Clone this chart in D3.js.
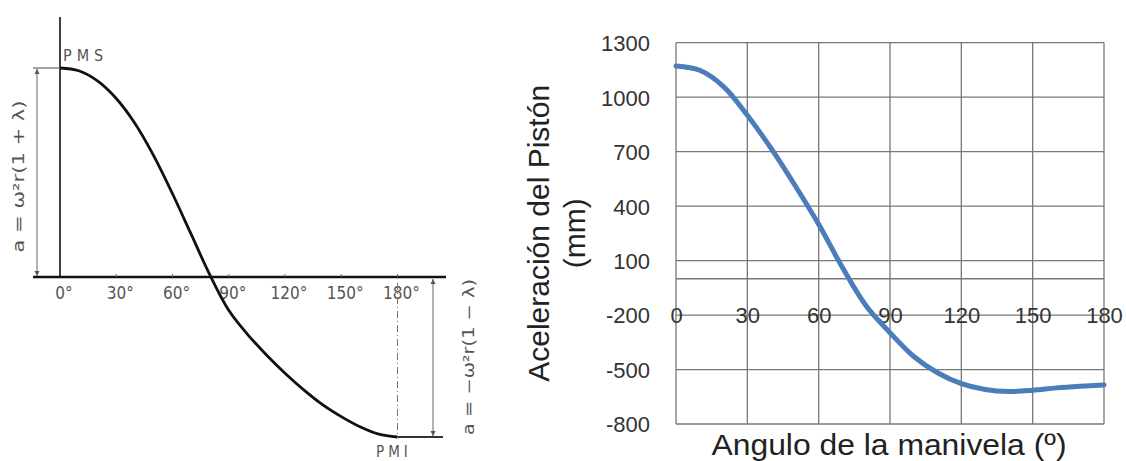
<!DOCTYPE html>
<html>
<head>
<meta charset="utf-8">
<script src="https://cdn.jsdelivr.net/npm/d3@7"></script>
<style>
  body { margin: 0; background: #fff; }
  svg { display: block; }
</style>
</head>
<body>
<svg id="chart" width="1126" height="461"></svg>
<script>
// ---- Left diagram: piston acceleration vs crank angle (in units of ω²r) ----
const diagramAngles = [0, 10, 20, 30, 40, 50, 60, 70, 80, 90, 100, 110, 120, 130, 140, 150, 160, 170, 180];
const diagramAccel  = [1.13, 1.115, 1.06, 0.965, 0.83, 0.655, 0.45, 0.23, 0.01, -0.18, -0.31, -0.42, -0.52, -0.61, -0.69, -0.755, -0.81, -0.85, -0.865];
const diagramTicks  = [0, 30, 60, 90, 120, 150, 180];
const diagramTickLabels = ["0°", "30°", "60°", "90°", "120°", "150°", "180°"];
const topDeadCentre = "PMS";
const bottomDeadCentre = "PMI";
const maxFormula = "a = ω²r(1 + λ)";
const minFormula = "a = −ω²r(1 − λ)";

// ---- Right chart: computed piston acceleration ----
const crankAngles = [0, 10, 20, 30, 40, 50, 60, 70, 80, 90, 100, 110, 120, 130, 140, 150, 160, 170, 180];
const pistonAccel = [1172, 1148, 1058, 900, 718, 515, 300, 62, -150, -297, -428, -518, -578, -610, -621, -614, -601, -592, -585];
const accelTicks  = [-800, -500, -200, 100, 400, 700, 1000, 1300];
const angleTicks  = [0, 30, 60, 90, 120, 150, 180];
const xTitle = "Angulo de la manivela (º)";
const yTitleLines = ["Aceleración del Pistón", "(mm)"];

const svg = d3.select("#chart");

// ================= Left diagram =================
const xL = d3.scaleLinear().domain([0, 180]).range([60, 397.5]);
const yL = d3.scaleLinear().domain([0, 1.13]).range([277, 68]);
const ink = "#111";
const thin = "#666";

const defs = svg.append("defs");
defs.append("marker")
  .attr("id", "arrow")
  .attr("viewBox", "0 0 10 10")
  .attr("refX", 10).attr("refY", 5)
  .attr("markerWidth", 5).attr("markerHeight", 7)
  .attr("markerUnits", "userSpaceOnUse")
  .attr("orient", "auto-start-reverse")
  .append("path").attr("d", "M0,0 L10,5 L0,10 z").attr("fill", "#555");

const left = svg.append("g").attr("class", "diagram");

// vertical axis
left.append("line")
  .attr("x1", xL(0)).attr("x2", xL(0))
  .attr("y1", 17).attr("y2", yL(0))
  .attr("stroke", ink).attr("stroke-width", 1.6);

// horizontal axis
left.append("line")
  .attr("x1", 33).attr("x2", 446)
  .attr("y1", yL(0)).attr("y2", yL(0))
  .attr("stroke", ink).attr("stroke-width", 2.6);

// small tick marks on the angle axis
left.selectAll("line.tick").data(diagramTicks.slice(1)).join("line")
  .attr("class", "tick")
  .attr("x1", d => xL(d)).attr("x2", d => xL(d))
  .attr("y1", yL(0) - 3).attr("y2", yL(0))
  .attr("stroke", thin).attr("stroke-width", 1);

const labelFont = "'Liberation Sans Narrow', 'DejaVu Sans Condensed', 'Liberation Sans', sans-serif";

// angle labels
left.selectAll("text.tl").data(diagramTicks).join("text")
  .attr("class", "tl")
  .attr("x", d => xL(d) + 4)
  .attr("y", 293)
  .attr("text-anchor", "middle")
  .attr("dominant-baseline", "central")
  .attr("font-family", labelFont)
  .attr("font-size", 17)
  .attr("fill", "#555")
  .text((d, i) => diagramTickLabels[i]);

// extension line at the maximum and dimension arrow
const yMax = yL(diagramAccel[0]);
const yMin = yL(diagramAccel[diagramAccel.length - 1]);
left.append("line")
  .attr("x1", 33).attr("x2", xL(0))
  .attr("y1", yMax).attr("y2", yMax)
  .attr("stroke", thin).attr("stroke-width", 1.2);
left.append("line")
  .attr("x1", 37).attr("x2", 37)
  .attr("y1", yMax + 1).attr("y2", yL(0) - 1)
  .attr("stroke", thin).attr("stroke-width", 1)
  .attr("marker-start", "url(#arrow)")
  .attr("marker-end", "url(#arrow)");

// dash-dot line at 180°, base line at the minimum and dimension arrow
left.append("line")
  .attr("x1", xL(180)).attr("x2", xL(180))
  .attr("y1", yL(0) + 6).attr("y2", yMin)
  .attr("stroke", "#777").attr("stroke-width", 1)
  .attr("stroke-dasharray", "7,3,1,3");
left.append("line")
  .attr("x1", xL(180)).attr("x2", 443)
  .attr("y1", yMin).attr("y2", yMin)
  .attr("stroke", "#333").attr("stroke-width", 1.8);
left.append("line")
  .attr("x1", 433).attr("x2", 433)
  .attr("y1", yL(0) + 2).attr("y2", yMin - 1)
  .attr("stroke", thin).attr("stroke-width", 1)
  .attr("marker-start", "url(#arrow)")
  .attr("marker-end", "url(#arrow)");

// acceleration curve
left.append("path")
  .datum(diagramAngles.map((a, i) => [a, diagramAccel[i]]))
  .attr("fill", "none")
  .attr("stroke", ink)
  .attr("stroke-width", 2.8)
  .attr("d", d3.line().x(d => xL(d[0])).y(d => yL(d[1])).curve(d3.curveCatmullRom));

// dead-centre labels
left.append("text")
  .attr("x", 63).attr("y", 55)
  .attr("dominant-baseline", "central")
  .attr("font-family", labelFont).attr("font-size", 16)
  .attr("letter-spacing", 5)
  .attr("fill", "#555")
  .text(topDeadCentre);
left.append("text")
  .attr("x", 376).attr("y", 452)
  .attr("dominant-baseline", "central")
  .attr("font-family", labelFont).attr("font-size", 15)
  .attr("letter-spacing", 4)
  .attr("fill", "#555")
  .text(bottomDeadCentre);

// rotated formulas
left.append("text")
  .attr("transform", `translate(19,${(yMax + yL(0)) / 2 + 4}) rotate(-90)`)
  .attr("text-anchor", "middle")
  .attr("dominant-baseline", "central")
  .attr("font-family", "'DejaVu Sans', sans-serif")
  .attr("font-size", 15)
  .attr("textLength", 152).attr("lengthAdjust", "spacingAndGlyphs")
  .attr("fill", "#555")
  .text(maxFormula);
left.append("text")
  .attr("transform", `translate(469,${(yMin + yL(0)) / 2}) rotate(-90)`)
  .attr("text-anchor", "middle")
  .attr("dominant-baseline", "central")
  .attr("font-family", "'DejaVu Sans', sans-serif")
  .attr("font-size", 15)
  .attr("textLength", 156).attr("lengthAdjust", "spacingAndGlyphs")
  .attr("fill", "#555")
  .text(minFormula);

// ================= Right chart =================
const xR = d3.scaleLinear().domain([0, 180]).range([676, 1104]);
const yR = d3.scaleLinear().domain([-800, 1300]).range([424, 42.7]);
const gridColor = "#777";
const right = svg.append("g").attr("class", "chart");

// horizontal gridlines (plus the zero line)
right.selectAll("line.hg").data(accelTicks.concat([0])).join("line")
  .attr("class", "hg")
  .attr("x1", xR(0)).attr("x2", xR(180))
  .attr("y1", d => yR(d)).attr("y2", d => yR(d))
  .attr("stroke", gridColor).attr("stroke-width", 1.3);

// vertical gridlines
right.selectAll("line.vg").data(angleTicks).join("line")
  .attr("class", "vg")
  .attr("x1", d => xR(d)).attr("x2", d => xR(d))
  .attr("y1", yR(1300)).attr("y2", yR(-800))
  .attr("stroke", gridColor).attr("stroke-width", 1.3);

const tickFont = "'Liberation Sans', Arial, sans-serif";
const plain = d => String(d);

// y-axis labels
const yAxis = right.append("g")
  .attr("transform", "translate(650,0)")
  .call(d3.axisLeft(yR).tickValues(accelTicks).tickFormat(plain).tickSize(0).tickPadding(0));
yAxis.select(".domain").remove();
yAxis.selectAll("text")
  .attr("font-family", tickFont).attr("font-size", 22).attr("fill", "#333")
  .attr("dy", "0.36em");

// x-axis labels (sit on the -200 row)
const xAxis = right.append("g")
  .attr("transform", `translate(0,${yR(-200)})`)
  .call(d3.axisBottom(xR).tickValues(angleTicks).tickFormat(plain).tickSize(0).tickPadding(0));
xAxis.select(".domain").remove();
xAxis.selectAll("text")
  .attr("font-family", tickFont).attr("font-size", 22).attr("fill", "#333")
  .attr("y", 0).attr("dy", "0.36em");

// acceleration line
right.append("path")
  .datum(crankAngles.map((a, i) => [a, pistonAccel[i]]))
  .attr("fill", "none")
  .attr("stroke", "#4a7dba")
  .attr("stroke-width", 5)
  .attr("stroke-linecap", "round")
  .attr("d", d3.line().x(d => xR(d[0])).y(d => yR(d[1])).curve(d3.curveCatmullRom));

// axis titles
right.append("text")
  .attr("x", 889).attr("y", 455)
  .attr("text-anchor", "middle")
  .attr("font-family", tickFont).attr("font-size", 30)
  .attr("textLength", 355).attr("lengthAdjust", "spacingAndGlyphs")
  .attr("fill", "#222")
  .text(xTitle);

const yMid = (yR(1300) + yR(-800)) / 2;
const titleX = [538, 574];
right.selectAll("text.yt").data(yTitleLines).join("text")
  .attr("class", "yt")
  .attr("transform", (d, i) => `translate(${titleX[i]},${yMid}) rotate(-90)`)
  .attr("text-anchor", "middle")
  .attr("dominant-baseline", "central")
  .attr("font-family", tickFont).attr("font-size", 30)
  .attr("fill", "#222")
  .text(d => d);
</script>
</body>
</html>
